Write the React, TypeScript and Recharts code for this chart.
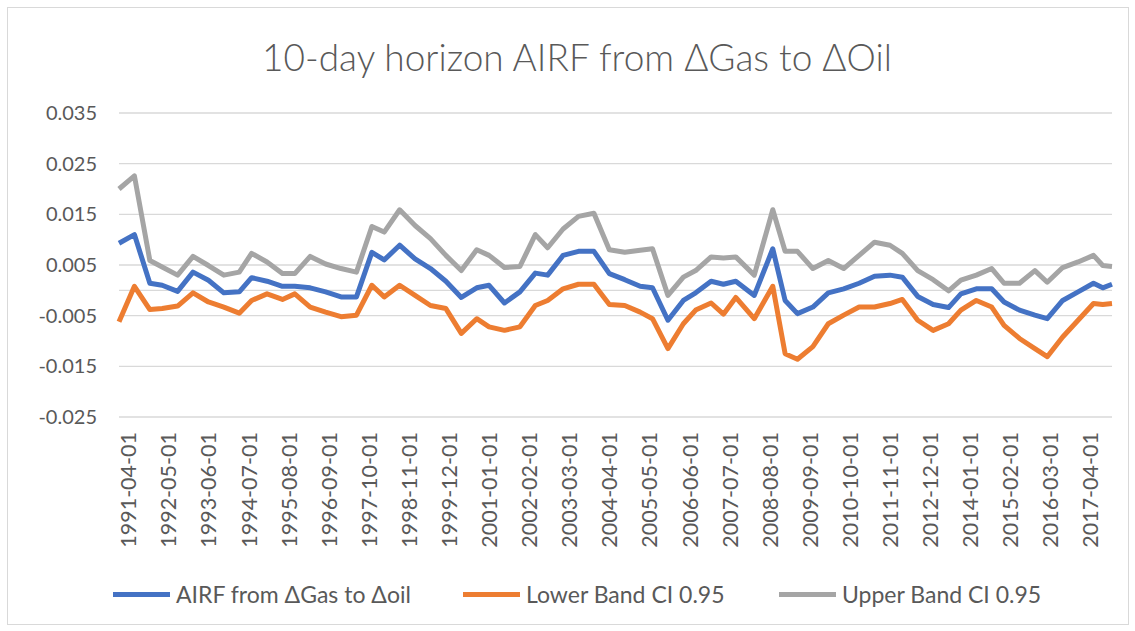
import {
  CartesianGrid,
  Legend,
  Line,
  LineChart,
  ReferenceLine,
  XAxis,
  YAxis,
} from "recharts";

// observation dates (Excel date axis, irregular spacing)
const dates = [
  "1991-01-01", "1991-06-01", "1991-11-01", "1992-03-01", "1992-08-01",
  "1993-01-01", "1993-06-01", "1993-11-01", "1994-04-01", "1994-08-01",
  "1995-01-01", "1995-06-01", "1995-10-01", "1996-03-01", "1996-08-01",
  "1997-01-01", "1997-06-01", "1997-11-01", "1998-03-01", "1998-08-01",
  "1999-01-01", "1999-06-01", "1999-11-01", "2000-04-01", "2000-09-01",
  "2001-01-01", "2001-06-01", "2001-11-01", "2002-04-01", "2002-08-01",
  "2003-01-01", "2003-06-01", "2003-11-01", "2004-04-01", "2004-09-01",
  "2005-02-01", "2005-06-01", "2005-11-01", "2006-04-01", "2006-08-01",
  "2007-01-01", "2007-05-01", "2007-09-01", "2008-03-01", "2008-09-01",
  "2009-01-01", "2009-05-01", "2009-10-01", "2010-03-01", "2010-08-01",
  "2011-01-01", "2011-06-01", "2011-11-01", "2012-03-01", "2012-08-01",
  "2013-01-01", "2013-06-01", "2013-10-01", "2014-03-01", "2014-08-01",
  "2014-12-01", "2015-05-01", "2015-10-01", "2016-02-01", "2016-07-01",
  "2016-12-01", "2017-05-01", "2017-08-01", "2017-11-01",
];

const airf = [
  0.0093, 0.011, 0.0014, 0.001, -0.0002, 0.0036, 0.002, -0.0005, -0.0003, 0.0025,
  0.0018, 0.0008, 0.0008, 0.0005, -0.0003, -0.0013, -0.0013, 0.0075, 0.006, 0.0089,
  0.0062, 0.0043, 0.0018, -0.0014, 0.0005, 0.001, -0.0025, -0.0003, 0.0034, 0.003,
  0.0069, 0.0077, 0.0077, 0.0033, 0.0021, 0.0008, 0.0005, -0.0059, -0.002, -0.0005,
  0.0018, 0.0012, 0.0018, -0.001, 0.0082, -0.002, -0.0046, -0.0033, -0.0005, 0.0003,
  0.0014, 0.0028, 0.003, 0.0026, -0.0012, -0.0028, -0.0034, -0.0007, 0.0003, 0.0003,
  -0.0023, -0.0039, -0.0049, -0.0056, -0.002, -0.0003, 0.0014, 0.0005, 0.0012,
];

const lower = [
  -0.0062, 0.0008, -0.0038, -0.0036, -0.0031, -0.0005, -0.0023, -0.0033, -0.0045, -0.002,
  -0.0007, -0.0018, -0.0007, -0.0033, -0.0043, -0.0052, -0.0049, 0.001, -0.0013, 0.001,
  -0.001, -0.003, -0.0036, -0.0085, -0.0056, -0.0072, -0.0079, -0.0072, -0.003, -0.002,
  0.0003, 0.0012, 0.0012, -0.0028, -0.003, -0.0043, -0.0056, -0.0115, -0.0066, -0.0039,
  -0.0025, -0.0047, -0.0014, -0.0056, 0.0008, -0.0125, -0.0136, -0.0111, -0.0066, -0.0049,
  -0.0033, -0.0033, -0.0026, -0.0018, -0.0059, -0.0079, -0.0066, -0.0039, -0.002, -0.0033,
  -0.0069, -0.0095, -0.0115, -0.0131, -0.0092, -0.0059, -0.0026, -0.0028, -0.0026,
];

const upper = [
  0.02, 0.0226, 0.0059, 0.0046, 0.003, 0.0067, 0.0049, 0.003, 0.0036, 0.0073,
  0.0056, 0.0033, 0.0033, 0.0067, 0.0052, 0.0043, 0.0036, 0.0126, 0.0115, 0.0159,
  0.0128, 0.0102, 0.0069, 0.0039, 0.008, 0.0069, 0.0045, 0.0047, 0.011, 0.0084,
  0.0121, 0.0146, 0.0152, 0.008, 0.0075, 0.0079, 0.0082, -0.001, 0.0026, 0.0039,
  0.0066, 0.0064, 0.0066, 0.003, 0.0159, 0.0077, 0.0077, 0.0043, 0.0059, 0.0043,
  0.0069, 0.0095, 0.0089, 0.0073, 0.0039, 0.0021, -0.0001, 0.002, 0.003, 0.0043,
  0.0014, 0.0014, 0.0039, 0.0016, 0.0045, 0.0056, 0.0069, 0.0049, 0.0047,
];

const tickLabels = [
  "1991-04-01", "1992-05-01", "1993-06-01", "1994-07-01", "1995-08-01",
  "1996-09-01", "1997-10-01", "1998-11-01", "1999-12-01", "2001-01-01",
  "2002-02-01", "2003-03-01", "2004-04-01", "2005-05-01", "2006-06-01",
  "2007-07-01", "2008-08-01", "2009-09-01", "2010-10-01", "2011-11-01",
  "2012-12-01", "2014-01-01", "2015-02-01", "2016-03-01", "2017-04-01",
];

const yTicks = [-0.025, -0.015, -0.005, 0.005, 0.015, 0.025, 0.035];

const seriesNames = ["AIRF from ΔGas to Δoil", "Lower Band CI 0.95", "Upper Band CI 0.95"];
const colors = ["#4472C4", "#ED7D31", "#A5A5A5"];
const legendLeft = [113, 463, 779];

// months since 1991-01
const toMonth = (d: string) => {
  const [y, m] = d.split("-").map(Number);
  return (y - 1991) * 12 + (m - 1);
};

const data = dates.map((d, i) => ({
  m: toMonth(d),
  airf: airf[i],
  lower: lower[i],
  upper: upper[i],
}));

const tickMonths = tickLabels.map(toMonth);
const labelOf = (m: number) => tickLabels[tickMonths.indexOf(m)] ?? "";

const font = "Lato, 'Open Sans', sans-serif";

const XTick = (props: any) => {
  const { x, y, payload } = props;
  return (
    <text
      x={x}
      y={y}
      transform={`rotate(-90 ${x} ${y})`}
      textAnchor="end"
      dominantBaseline="central"
      fill="#595959"
      fontSize={21.5}
      fontFamily={font}
    >
      {labelOf(payload.value)}
    </text>
  );
};

const LegendBox = () => (
  <div
    style={{
      position: "relative",
      height: 32,
      fontFamily: font,
      fontSize: 23,
      color: "#595959",
    }}
  >
    {seriesNames.map((name, i) => (
      <div
        key={name}
        style={{
          position: "absolute",
          left: legendLeft[i],
          top: 0,
          height: 32,
          display: "flex",
          alignItems: "center",
          whiteSpace: "nowrap",
        }}
      >
        <span
          style={{
            display: "inline-block",
            width: 57,
            height: 5,
            background: colors[i],
            marginRight: 6,
          }}
        />
        <span>{name}</span>
      </div>
    ))}
  </div>
);

export default function App() {
  return (
    <div
      style={{
        position: "absolute",
        left: 0,
        top: 0,
        width: 1135,
        height: 631,
        background: "#fff",
      }}
    >
      <div
        style={{
          position: "absolute",
          left: 7,
          top: 7,
          width: 1120,
          height: 616,
          border: "1px solid #d9d9d9",
        }}
      />
      <div
        style={{
          position: "absolute",
          left: 19,
          top: 33,
          width: 1116,
          height: 48,
          lineHeight: "48px",
          textAlign: "center",
          fontFamily: font,
          fontSize: 37,
          fontWeight: 300,
          color: "#595959",
        }}
      >
        10-day horizon AIRF from ΔGas to ΔOil
      </div>
      <LineChart
        width={1135}
        height={631}
        data={data}
        margin={{ top: 113, right: 23, bottom: 0, left: 19 }}
        style={{ position: "absolute", left: 0, top: 0 }}
      >
        <CartesianGrid vertical={false} stroke="#d9d9d9" strokeWidth={1.3} />
        <XAxis
          dataKey="m"
          type="number"
          domain={[0, 322]}
          ticks={tickMonths}
          interval={0}
          axisLine={false}
          tickLine={false}
          tickSize={0}
          tickMargin={15}
          height={182}
          tick={<XTick />}
        />
        <YAxis
          domain={[-0.025, 0.035]}
          ticks={yTicks}
          interval={0}
          width={100}
          axisLine={false}
          tickLine={false}
          tickMargin={16}
          tick={{ fill: "#595959", fontSize: 20, fontFamily: font }}
          tickFormatter={(v: number) => v.toFixed(3)}
        />
        <ReferenceLine y={0} stroke="#d9d9d9" strokeWidth={1.3} />
        <Line
          dataKey="airf"
          name={seriesNames[0]}
          stroke={colors[0]}
          strokeWidth={5}
          dot={false}
          strokeLinejoin="round"
          isAnimationActive={false}
        />
        <Line
          dataKey="lower"
          name={seriesNames[1]}
          stroke={colors[1]}
          strokeWidth={5}
          dot={false}
          strokeLinejoin="round"
          isAnimationActive={false}
        />
        <Line
          dataKey="upper"
          name={seriesNames[2]}
          stroke={colors[2]}
          strokeWidth={5}
          dot={false}
          strokeLinejoin="round"
          isAnimationActive={false}
        />
        <Legend
          content={<LegendBox />}
          wrapperStyle={{ position: "absolute", left: 0, top: 578, width: 1135 }}
        />
      </LineChart>
    </div>
  );
}
